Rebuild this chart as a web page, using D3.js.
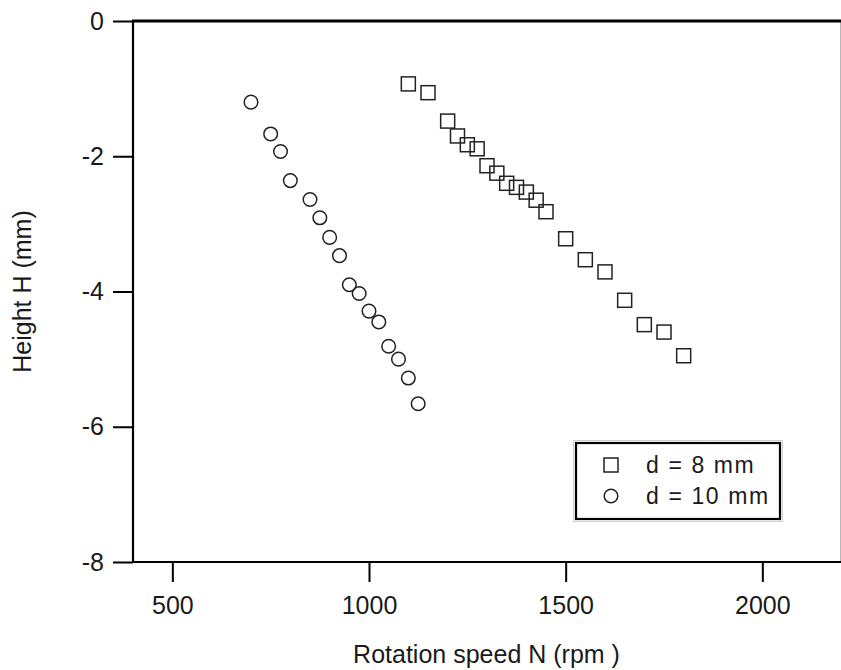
<!DOCTYPE html>
<html><head><meta charset="utf-8">
<script src="https://cdn.jsdelivr.net/npm/d3@7"></script>
<style>
body{margin:0;background:#fff}
svg{display:block}
text{font-family:"Liberation Sans",Arial,sans-serif;fill:#1a1a1a}
</style>
</head><body>
<svg id="chart" width="841" height="670"></svg>
<script>
// d = 8 mm (squares)
const speed8  = [1100,1150,1200,1225,1250,1275,1300,1325,1350,1375,1400,1425,1450,1500,1550,1600,1650,1700,1750,1800];
const height8 = [-0.93,-1.06,-1.48,-1.70,-1.83,-1.89,-2.14,-2.25,-2.40,-2.46,-2.53,-2.65,-2.82,-3.22,-3.53,-3.71,-4.13,-4.49,-4.60,-4.95];
// d = 10 mm (circles)
const speed10  = [700,750,775,800,850,875,900,925,950,975,1000,1025,1050,1075,1100,1125];
const height10 = [-1.20,-1.67,-1.93,-2.36,-2.64,-2.91,-3.20,-3.47,-3.90,-4.03,-4.29,-4.45,-4.81,-5.00,-5.28,-5.66];
const xTicks = [500,1000,1500,2000];
const yTicks = [0,-2,-4,-6,-8];
const legendLabels = ["d = 8 mm","d = 10 mm"];
const xTitle = "Rotation speed N (rpm )";
const yTitle = "Height H (mm)";

const L=133, R=840, T=21, B=562;
const svg = d3.select("#chart");
const x = d3.scaleLinear().domain([400,2200]).range([L,R+1]);
const y = d3.scaleLinear().domain([-8,0]).range([B,T]);

// right border (thin gray)
svg.append("line").attr("x1",R+0.5).attr("x2",R+0.5).attr("y1",T).attr("y2",B)
  .attr("stroke","#b8b8b8").attr("stroke-width",1);

// axes
const fmt = d => String(d);
const yAxis = svg.append("g").attr("transform",`translate(${L},0)`)
  .call(d3.axisLeft(y).tickValues(yTicks).tickSize(20).tickPadding(9).tickFormat(fmt));
const xAxis = svg.append("g").attr("transform",`translate(0,${B})`)
  .call(d3.axisBottom(x).tickValues(xTicks).tickSize(20).tickPadding(14).tickFormat(fmt));
[yAxis,xAxis].forEach(g=>{
  g.select(".domain").remove();
  g.selectAll(".tick line").attr("stroke","#000").attr("stroke-width",2);
  g.selectAll(".tick text").attr("font-size",25).attr("fill","#1a1a1a")
    .attr("font-family",'"Liberation Sans",Arial,sans-serif');
});
// axis lines
svg.append("line").attr("x1",L).attr("x2",L).attr("y1",T-1).attr("y2",B+1)
  .attr("stroke","#000").attr("stroke-width",2.2);
svg.append("line").attr("x1",L-1).attr("x2",R+1).attr("y1",B).attr("y2",B)
  .attr("stroke","#000").attr("stroke-width",2.2);
svg.append("line").attr("x1",L-1).attr("x2",R+1).attr("y1",T).attr("y2",T)
  .attr("stroke","#000").attr("stroke-width",3);

// data
const d10 = speed10.map((s,i)=>({s,h:height10[i]}));
const d8 = speed8.map((s,i)=>({s,h:height8[i]}));
const mk = "#222";
svg.append("g").selectAll("circle").data(d10).join("circle")
  .attr("cx",d=>x(d.s)).attr("cy",d=>y(d.h)).attr("r",6.8)
  .attr("fill","none").attr("stroke",mk).attr("stroke-width",1.5);
const sq = 14;
svg.append("g").selectAll("rect").data(d8).join("rect")
  .attr("x",d=>x(d.s)-sq/2).attr("y",d=>y(d.h)-sq/2).attr("width",sq).attr("height",sq)
  .attr("fill","none").attr("stroke",mk).attr("stroke-width",1.5);

// legend
svg.append("rect").attr("x",573.5).attr("y",440.5).attr("width",209).attr("height",81)
  .attr("fill","#fff").attr("stroke","#d0d0d0").attr("stroke-width",1);
svg.append("rect").attr("x",576).attr("y",443).attr("width",204).attr("height",76)
  .attr("fill","#fff").attr("stroke","#000").attr("stroke-width",2.2);
const ly = [465,496];
svg.append("rect").attr("x",611-sq/2).attr("y",ly[0]-sq/2).attr("width",sq).attr("height",sq)
  .attr("fill","none").attr("stroke",mk).attr("stroke-width",1.5);
svg.append("circle").attr("cx",611).attr("cy",ly[1]).attr("r",6.8)
  .attr("fill","none").attr("stroke",mk).attr("stroke-width",1.5);
legendLabels.forEach((t,i)=>{
  svg.append("text").attr("x",646).attr("y",ly[i]).attr("dy","0.36em")
    .attr("font-size",23).attr("letter-spacing",1.6).text(t);
});

// titles
svg.append("text").attr("x",(L+R)/2).attr("y",663).attr("text-anchor","middle")
  .attr("font-size",25).text(xTitle);
svg.append("text").attr("transform",`translate(31,${(T+B)/2}) rotate(-90)`)
  .attr("text-anchor","middle").attr("font-size",25).text(yTitle);
</script>
</body></html>
